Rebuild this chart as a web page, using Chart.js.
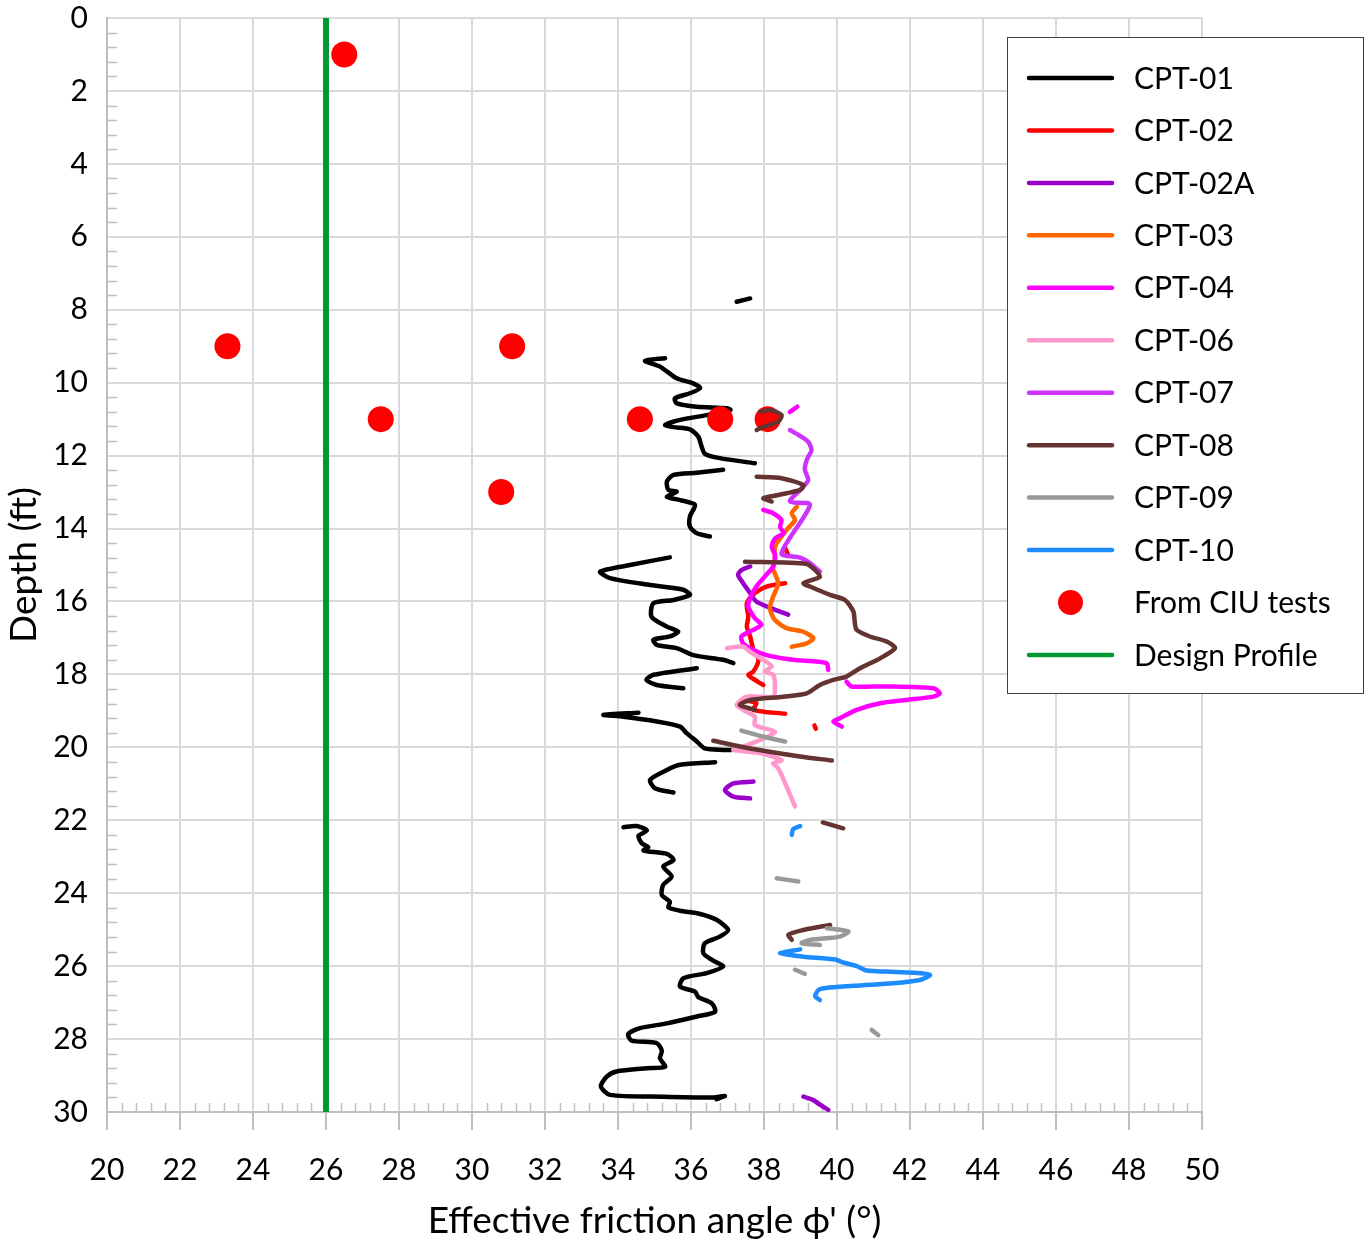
<!DOCTYPE html>
<html>
<head>
<meta charset="utf-8">
<script src="https://cdn.jsdelivr.net/npm/chart.js@4.4.1/dist/chart.umd.min.js"></script>
<style>
  body { margin: 0; background: #fff; }
</style>
</head>
<body>
<canvas id="chart" width="1370" height="1243"></canvas>
<script>
// axis ranges / ticks
const xRange = [20, 50];
const yRange = [0, 30];
const majorStep = 2;
const minorStep = 0.4;

// legend entries, in order
const seriesNames = ['CPT-01', 'CPT-02', 'CPT-02A', 'CPT-03', 'CPT-04', 'CPT-06', 'CPT-07', 'CPT-08', 'CPT-09', 'CPT-10'];
const seriesColors = ['#000000', '#ff0000', '#9900cc', '#ff6600', '#ff00ff', '#ff99cc', '#cc33ff', '#663333', '#999999', '#1e8cff'];

// each series: list of segments, each segment a list of [phi, depth]
const cpt01 = [
  [[37.25, 7.78], [37.62, 7.69]],
  [[35.29, 9.33], [34.74, 9.40], [35.15, 9.56], [35.61, 9.88], [36.06, 10.02], [36.25, 10.15], [35.97, 10.29], [35.56, 10.43],
   [35.61, 10.57], [36.16, 10.66], [36.98, 10.70], [37.08, 10.75], [36.43, 10.89], [35.70, 11.02], [35.29, 11.16], [35.52, 11.22],
   [35.97, 11.28], [36.20, 11.48], [36.29, 11.75], [36.38, 11.95], [36.79, 12.07], [37.75, 12.21]],
  [[36.88, 12.39], [36.16, 12.47], [35.52, 12.53], [35.34, 12.71], [35.38, 12.94], [35.61, 12.99], [35.34, 13.13], [35.70, 13.22],
   [36.11, 13.35], [35.97, 13.67], [35.97, 13.95], [36.16, 14.13], [36.52, 14.22]],
  [[35.42, 14.79], [34.33, 15.00], [33.51, 15.18], [33.78, 15.36], [34.88, 15.55], [35.79, 15.68], [35.97, 15.82], [35.52, 15.96],
   [34.97, 16.05], [34.92, 16.42], [35.34, 16.69], [35.65, 16.83], [35.42, 16.96], [34.97, 17.05], [35.06, 17.19], [35.61, 17.28],
   [36.06, 17.47], [36.88, 17.60], [37.16, 17.69]],
  [[36.16, 17.83], [34.97, 18.01], [34.78, 18.15], [35.06, 18.29], [35.79, 18.38]],
  [[34.56, 19.05], [33.60, 19.11], [34.15, 19.16], [35.06, 19.29], [35.70, 19.43], [35.88, 19.61], [36.16, 19.84], [36.38, 20.03],
   [36.88, 20.07], [37.11, 20.07]],
  [[36.66, 20.41], [35.70, 20.48], [35.34, 20.62], [34.88, 20.89], [35.01, 21.12], [35.52, 21.24]],
  [[34.15, 22.19], [34.51, 22.16], [34.79, 22.28], [34.56, 22.43], [34.65, 22.63], [34.83, 22.74], [34.70, 22.83], [35.34, 22.92],
   [35.52, 23.09], [35.24, 23.27], [35.47, 23.54], [35.24, 23.77], [35.20, 24.05], [35.42, 24.23], [35.38, 24.39], [35.70, 24.48],
   [36.25, 24.57], [36.70, 24.73], [37.02, 25.01], [36.79, 25.19], [36.38, 25.37], [36.34, 25.65], [36.61, 25.85], [36.88, 26.01],
   [36.43, 26.19], [35.79, 26.33], [35.70, 26.56], [36.11, 26.70], [36.20, 26.85], [36.57, 27.02], [36.66, 27.25], [36.16, 27.38],
   [35.34, 27.57], [34.60, 27.70], [34.28, 27.86], [34.37, 28.04], [35.06, 28.11], [35.20, 28.32], [35.15, 28.53], [35.29, 28.76],
   [34.79, 28.80], [33.96, 28.89], [33.69, 29.03], [33.53, 29.30], [33.78, 29.53], [35.24, 29.58], [36.61, 29.60], [36.93, 29.56],
   [36.70, 29.65]]
];
const cpt02 = [
  [[38.58, 14.54], [38.66, 14.72]],
  [[38.58, 15.50], [38.07, 15.59], [37.75, 15.77], [37.53, 16.05], [37.57, 16.42], [37.53, 16.69], [37.62, 16.96], [37.71, 17.33],
   [37.85, 17.60], [37.71, 17.92], [37.57, 18.01], [37.75, 18.15], [37.98, 18.29]],
  [[37.43, 18.70], [37.79, 18.79], [37.71, 18.97], [38.58, 19.08]],
  [[39.38, 19.40], [39.42, 19.49]]
];
const cpt02a = [
  [[38.66, 16.36], [38.21, 16.19], [37.79, 16.00], [37.62, 15.77], [37.43, 15.50], [37.29, 15.27], [37.38, 15.14], [37.62, 15.04]],
  [[37.71, 20.94], [37.16, 20.99], [36.93, 21.17], [37.16, 21.35], [37.62, 21.40]],
  [[39.08, 29.58], [39.35, 29.67], [39.53, 29.80], [39.76, 29.94]]
];
const cpt03 = [
  [[38.90, 13.40], [38.76, 13.58], [38.85, 13.77], [38.66, 13.99], [38.48, 14.22], [38.30, 14.50], [38.30, 14.86], [38.25, 15.10],
   [38.39, 15.50], [38.25, 15.87], [38.16, 16.19], [38.30, 16.51], [38.62, 16.73], [39.08, 16.83], [39.35, 17.01], [39.17, 17.15],
   [38.76, 17.24]]
];
const cpt04 = [
  [[38.71, 10.80], [38.91, 10.66]],
  [[37.98, 13.49], [38.25, 13.58], [38.48, 13.77], [38.44, 13.95], [38.53, 14.13], [38.30, 14.27], [38.21, 14.50], [38.30, 14.72],
   [38.25, 15.04], [38.02, 15.32], [37.79, 15.59], [37.62, 15.91], [37.57, 16.14], [37.75, 16.46], [37.93, 16.64], [37.71, 16.78],
   [37.38, 16.96], [37.43, 17.15], [37.71, 17.33], [38.07, 17.47], [38.80, 17.60], [39.71, 17.69], [39.76, 17.88]],
  [[40.26, 18.20], [40.40, 18.33], [41.27, 18.33], [42.64, 18.38], [42.82, 18.52], [42.64, 18.61], [41.91, 18.70], [41.18, 18.79],
   [40.54, 18.97], [40.08, 19.20], [39.90, 19.29], [40.13, 19.43]]
];
const cpt06 = [
  [[36.98, 17.28], [37.43, 17.24], [37.62, 17.38], [37.98, 17.60], [38.21, 17.78], [38.02, 17.92], [38.25, 18.01], [38.30, 18.33],
   [38.25, 18.61], [37.52, 18.61], [37.25, 18.84], [37.43, 18.97], [37.75, 19.16], [37.75, 19.39], [38.30, 19.57], [37.89, 19.80],
   [37.43, 19.98], [37.16, 20.07], [37.89, 20.16], [38.48, 20.35], [38.25, 20.44], [38.35, 20.53], [38.44, 20.67], [38.62, 21.08],
   [38.85, 21.62]]
];
const cpt07 = [
  [[38.71, 11.30], [38.94, 11.43], [39.21, 11.62], [39.30, 11.85], [39.17, 12.12], [39.12, 12.39], [39.21, 12.67], [39.03, 12.90],
   [38.71, 13.26], [39.26, 13.35], [38.48, 14.68], [38.99, 14.80], [39.26, 14.95], [39.53, 15.18]]
];
const cpt08 = [
  [[37.90, 10.80], [38.17, 10.75], [38.48, 10.89], [38.39, 11.07], [37.98, 11.21], [37.80, 11.30]],
  [[37.80, 12.58], [38.48, 12.62], [39.08, 12.81], [38.99, 12.94], [38.39, 13.08], [37.98, 13.17], [38.21, 13.26]],
  [[37.48, 14.91], [39.17, 14.97], [39.40, 15.14], [39.53, 15.32], [39.08, 15.50], [39.26, 15.59], [39.81, 15.82], [40.22, 15.96],
   [40.45, 16.28], [40.49, 16.60], [40.54, 16.78], [40.90, 16.96], [41.36, 17.10], [41.59, 17.28], [41.18, 17.56], [40.63, 17.83],
   [40.26, 18.06], [39.90, 18.15], [39.53, 18.29], [39.17, 18.52], [38.53, 18.61], [37.62, 18.70], [37.34, 18.84], [37.75, 18.97]],
  [[36.61, 19.82], [37.62, 20.03], [38.99, 20.25], [39.86, 20.36]],
  [[39.61, 22.06], [40.17, 22.22]],
  [[39.81, 24.87], [39.08, 25.01], [38.67, 25.14], [38.76, 25.28]]
];
const cpt09 = [
  [[37.38, 19.54], [37.98, 19.71], [38.58, 19.84]],
  [[38.35, 23.59], [38.94, 23.68]],
  [[39.72, 24.96], [40.31, 25.05], [40.08, 25.19], [39.26, 25.28], [39.03, 25.37], [39.53, 25.42]],
  [[38.85, 26.10], [39.12, 26.21]],
  [[40.95, 27.75], [41.13, 27.89]]
];
const cpt10 = [
  [[38.99, 22.16], [38.80, 22.24], [38.76, 22.40]],
  [[38.99, 25.54], [38.44, 25.65], [39.08, 25.74], [39.95, 25.82], [40.17, 25.90], [40.54, 26.00], [40.81, 26.12], [41.36, 26.15],
   [42.09, 26.18], [42.55, 26.24], [42.27, 26.38], [41.54, 26.47], [40.45, 26.54], [39.53, 26.63], [39.40, 26.82], [39.53, 26.93]]
];
const ciuTests = [[26.5, 1], [23.3, 9], [31.1, 9], [27.5, 11], [34.6, 11], [36.8, 11], [38.1, 11], [30.8, 13]];
const designProfile = [[26, 0], [26, 30]];

const cptSeries = [cpt01, cpt02, cpt02a, cpt03, cpt04, cpt06, cpt07, cpt08, cpt09, cpt10];

function toPoints(segments) {
  const pts = [];
  segments.forEach((seg, i) => {
    if (i > 0) pts.push({ x: null, y: null });
    seg.forEach(p => pts.push({ x: p[0], y: p[1] }));
  });
  return pts;
}

const datasets = cptSeries.map((s, i) => ({
  label: seriesNames[i],
  data: toPoints(s),
  showLine: true,
  borderColor: seriesColors[i],
  backgroundColor: seriesColors[i],
  borderWidth: 4.5,
  pointRadius: 0,
  tension: 0.25,
  borderCapStyle: 'round',
  borderJoinStyle: 'round',
  order: i === 0 ? 100 : 90 - i
}));
datasets.push({
  label: 'From CIU tests',
  data: ciuTests.map(p => ({ x: p[0], y: p[1] })),
  showLine: false,
  pointRadius: 13,
  pointBackgroundColor: '#ff0000',
  pointBorderWidth: 0,
  order: 95
});
datasets.push({
  label: 'Design Profile',
  data: designProfile.map(p => ({ x: p[0], y: p[1] })),
  showLine: true,
  borderColor: '#009933',
  borderWidth: 6,
  pointRadius: 0,
  borderCapStyle: 'round',
  order: 0
});

const gridColor = '#d9d9d9';

// inside minor ticks on the left and bottom axes
const minorTicks = {
  id: 'minorTicks',
  beforeDatasetsDraw(chart) {
    const { ctx, chartArea, scales } = chart;
    ctx.save();
    ctx.strokeStyle = '#bfbfbf';
    ctx.lineWidth = 1.5;
    ctx.beginPath();
    for (let v = yRange[0] + minorStep; v < yRange[1]; v += minorStep) {
      if (Math.abs(v / majorStep - Math.round(v / majorStep)) < 1e-6) continue;
      const y = Math.round(scales.y.getPixelForValue(v)) + 0.5;
      ctx.moveTo(chartArea.left, y);
      ctx.lineTo(chartArea.left + 10, y);
    }
    for (let v = xRange[0] + minorStep; v < xRange[1]; v += minorStep) {
      const r = v - xRange[0];
      if (Math.abs(r / majorStep - Math.round(r / majorStep)) < 1e-6) continue;
      const x = Math.round(scales.x.getPixelForValue(v)) + 0.5;
      ctx.moveTo(x, chartArea.bottom);
      ctx.lineTo(x, chartArea.bottom - 9);
    }
    ctx.stroke();
    ctx.restore();
  }
};

// legend box drawn over the plot, like the original
const boxLegend = {
  id: 'boxLegend',
  afterDraw(chart) {
    const ctx = chart.ctx;
    const box = { x: 1007.5, y: 37.5, w: 356, h: 656 };
    ctx.save();
    ctx.fillStyle = '#ffffff';
    ctx.fillRect(box.x, box.y, box.w, box.h);
    ctx.strokeStyle = '#404040';
    ctx.lineWidth = 1;
    ctx.strokeRect(box.x, box.y, box.w, box.h);
    const labels = seriesNames.concat(['From CIU tests', 'Design Profile']);
    const colors = seriesColors.concat(['#ff0000', '#009933']);
    ctx.font = '30px Lato';
    ctx.textBaseline = 'middle';
    labels.forEach((lab, i) => {
      const y = 78 + i * 52.45;
      if (lab === 'From CIU tests') {
        ctx.fillStyle = colors[i];
        ctx.beginPath();
        ctx.arc(1070.5, y, 12.5, 0, Math.PI * 2);
        ctx.fill();
      } else {
        ctx.strokeStyle = colors[i];
        ctx.lineWidth = 4.5;
        ctx.lineCap = 'round';
        ctx.beginPath();
        ctx.moveTo(1029, y);
        ctx.lineTo(1112, y);
        ctx.stroke();
      }
      ctx.fillStyle = '#000';
      ctx.fillText(lab, 1134, y + 1);
    });
    ctx.restore();
  }
};

Chart.defaults.font.family = 'Lato';
Chart.defaults.color = '#000';

new Chart(document.getElementById('chart'), {
  type: 'scatter',
  data: { datasets: datasets },
  options: {
    responsive: false,
    devicePixelRatio: 1,
    animation: false,
    layout: { padding: { left: 0, right: 168, top: 18, bottom: 0 } },
    plugins: { legend: { display: false }, tooltip: { enabled: false } },
    scales: {
      x: {
        type: 'linear',
        position: 'bottom',
        min: xRange[0],
        max: xRange[1],
        ticks: { stepSize: majorStep, font: { size: 30 }, padding: 22, maxRotation: 0 },
        grid: { color: gridColor, lineWidth: 2, tickLength: 18, tickColor: '#bfbfbf' },
        border: { color: '#bfbfbf', width: 2 },
        title: { display: true, text: "Effective friction angle ϕ' (°)", font: { size: 37 }, padding: { top: 0, bottom: 0 } },
        afterFit(scale) { scale.height = 131; scale.paddingLeft = 0; scale.paddingRight = 0; }
      },
      y: {
        type: 'linear',
        reverse: true,
        min: yRange[0],
        max: yRange[1],
        ticks: { stepSize: majorStep, font: { size: 30 }, padding: 19 },
        grid: { color: gridColor, lineWidth: 2, drawTicks: false },
        border: { color: '#bfbfbf', width: 2 },
        title: { display: true, text: 'Depth (ft)', font: { size: 37 }, padding: { top: 2, bottom: 0 } },
        afterFit(scale) { scale.width = 107; scale.paddingTop = 0; scale.paddingBottom = 0; }
      }
    }
  },
  plugins: [minorTicks, boxLegend]
});
</script>
</body>
</html>
